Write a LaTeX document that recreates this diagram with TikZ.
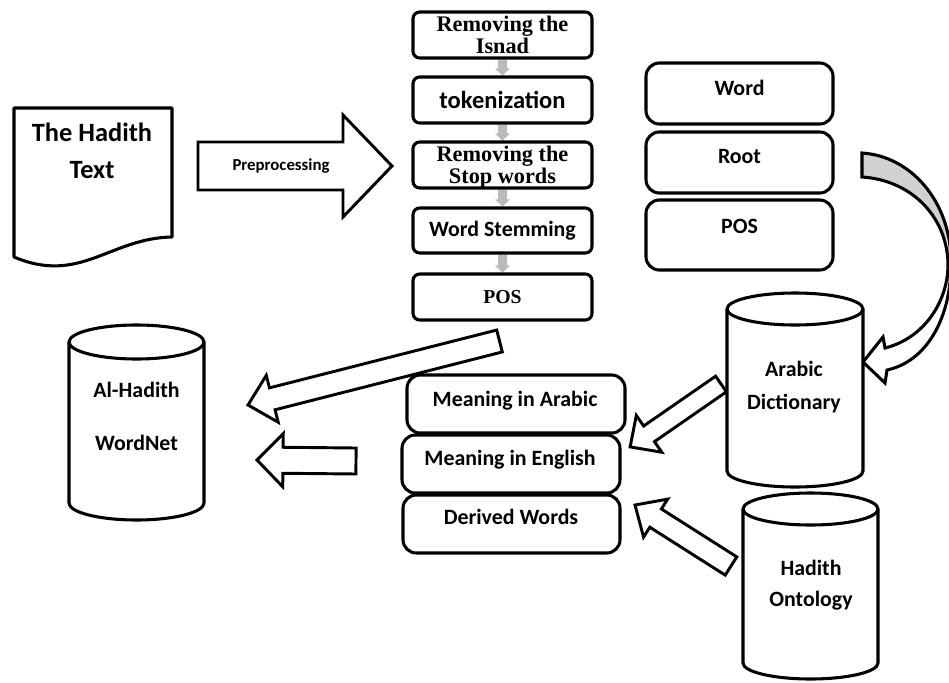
\documentclass[tikz,border=0pt]{standalone}
\usepackage{fontspec}
\setmainfont{Carlito}
\newfontfamily\tmsfont{Liberation Serif}
\pgfdeclarelayer{bg}
\pgfsetlayers{bg,main}
\tikzset{
  ol/.style={draw=black, line width=2.3pt},
  mbox/.style={ol, fill=white, rounded corners=5pt, inner sep=0pt, align=center},
  rbox/.style={ol, fill=white, rounded corners=10pt, inner sep=0pt},
  lbl/.style={font=\bfseries\fontsize{16.4}{18}\selectfont, anchor=base, inner sep=0pt},
  biglbl/.style={font=\bfseries\fontsize{19.8}{22}\selectfont, anchor=base, inner sep=0pt},
  serifbox/.style={font=\tmsfont\bfseries\fontsize{16.7}{14.4}\selectfont, text depth=0pt},
  hollow/.style={draw=black, line width=2.2pt, fill=white, line join=miter, miter limit=4},
  tinyarr/.style={fill=black!27, draw=none},
}
% block arrow: [style]{tail}{tip}{body half width px}{head half width px}{head length px}
\newcommand\blockarrow[6][]{%
  \path (#2); \pgfgetlastxy{\bax}{\bay}%
  \path (#3); \pgfgetlastxy{\bbx}{\bby}%
  \pgfmathsetmacro\bang{atan2(\bby-\bay,\bbx-\bax)}%
  \pgfmathsetmacro\blen{veclen(\bbx-\bax,\bby-\bay)}%
  \pgfmathsetmacro\bbw{0.75*#4}%
  \pgfmathsetmacro\bhw{0.75*#5}%
  \pgfmathsetmacro\bneck{\blen-0.75*#6}%
  \draw[#1,shift={(#2)},rotate=\bang] (0pt,-\bbw pt) -- (\bneck pt,-\bbw pt) -- (\bneck pt,-\bhw pt) -- (\blen pt,0pt) -- (\bneck pt,\bhw pt) -- (\bneck pt,\bbw pt) -- (0pt,\bbw pt) -- cycle;%
}
% cylinder: {x1}{x2}{y top centre}{y bottom centre}{ry} in px
\newcommand\cylshape[5]{%
  \pgfmathsetmacro\crx{0.75*(#2-#1)/2}%
  \pgfmathsetmacro\cry{0.75*#5}%
  \draw[ol,fill=white] (#1,#3) -- (#1,#4) arc[start angle=180,end angle=360,x radius=\crx pt,y radius=\cry pt] -- (#2,#3) arc[start angle=0,end angle=180,x radius=\crx pt,y radius=\cry pt] -- cycle;
  \draw[ol] (#1,#3) arc[start angle=180,end angle=360,x radius=\crx pt,y radius=\cry pt];
}
\begin{document}
\begin{tikzpicture}[x=0.75pt,y=-0.75pt]
\useasboundingbox (0,0) rectangle (949,682);
\begin{pgfonlayer}{bg}
\fill[white] (0,0) rectangle (949,682);
\end{pgfonlayer}

% document shape
\draw[ol, fill=white, line join=round] (14,108) -- (172,108) -- (172,237) .. controls (110,238) and (80,285) .. (14,257) -- cycle;
\node[biglbl] (doc1) at (92,141.5) {The Hadith};
\node[biglbl] (doc2) at (92,178) {Text};

% coordinates for block arrows
\coordinate (pp1) at (198,166); \coordinate (pp2) at (392,166);
\coordinate (la1) at (499.5,341); \coordinate (la2) at (248,405);
\coordinate (ha1) at (356,461); \coordinate (ha2) at (257,460);
\coordinate (ad1) at (721,384); \coordinate (ad2) at (630,447);
\coordinate (ho1) at (731,566); \coordinate (ho2) at (635,505);

% preprocessing arrow
\blockarrow[hollow]{pp1}{pp2}{24}{51}{49}
\node[font=\bfseries\fontsize{12.6}{14}\selectfont, anchor=base, inner sep=0pt] (pptext) at (281,170) {Preprocessing};

% middle column
\node[mbox, serifbox, minimum width=179*0.75pt, minimum height=46*0.75pt] (isnad) at (502.5,35) {Removing the\\Isnad};
\node[mbox, font=\bfseries\fontsize{18.4}{20}\selectfont, minimum width=179*0.75pt, minimum height=46*0.75pt] (tok) at (502.5,100) {tokenization};
\node[mbox, serifbox, minimum width=179*0.75pt, minimum height=46*0.75pt] (stop) at (502.5,165) {Removing the\\Stop words};
\node[mbox, font=\bfseries\fontsize{16.4}{18}\selectfont, minimum width=179*0.75pt, minimum height=45*0.75pt] (stem) at (502.5,230.5) {Word Stemming};
\node[mbox, font=\tmsfont\bfseries\fontsize{14.8}{16}\selectfont, minimum width=179*0.75pt, minimum height=46*0.75pt] (pos) at (502.5,297) {POS};
\begin{pgfonlayer}{bg}
\blockarrow[tinyarr]{isnad.south}{tok.north}{4.5}{7.5}{7}
\blockarrow[tinyarr]{tok.south}{stop.north}{4.5}{7.5}{7}
\blockarrow[tinyarr]{stop.south}{stem.north}{4.5}{7.5}{7}
\blockarrow[tinyarr]{stem.south}{pos.north}{4.5}{7.5}{7}
\end{pgfonlayer}

% right column boxes
\node[rbox, minimum width=187*0.75pt, minimum height=61*0.75pt] (word) at (739.5,93.5) {};
\node[rbox, minimum width=187*0.75pt, minimum height=61*0.75pt] (root) at (739.5,162.5) {};
\node[rbox, minimum width=187*0.75pt, minimum height=70*0.75pt] (rpos) at (739.5,235) {};
\node[lbl] (wordt) at (739.5,95) {Word};
\node[lbl] (roott) at (739.5,163.3) {Root};
\node[lbl] (rpost) at (739.5,233) {POS};

% curved arrow from Root to Arabic Dictionary
\begin{scope}
\clip (850,140) rectangle (960,238);
\fill[black!18] (862,153) .. controls (910,156) and (950,200) .. (951,260) -- (948,262) .. controls (946,215) and (910,180) .. (862,177) -- cycle;
\end{scope}
\draw[ol, line join=miter] (862,153) .. controls (910,156) and (950,200) .. (951,260) .. controls (952,320) and (925,362) .. (887,370) -- (885,383) -- (863,362) -- (883,337) -- (885,348) .. controls (925,338) and (949,300) .. (948,262) .. controls (946,215) and (910,180) .. (862,177) -- cycle;

% block arrows in the lower part
\blockarrow[hollow]{la1}{la2}{11.3}{24.2}{25}
\blockarrow[hollow]{ha1}{ha2}{13}{26.5}{26}
\blockarrow[hollow]{ad1}{ad2}{9.5}{22.4}{23}
\blockarrow[hollow]{ho1}{ho2}{10.8}{22.5}{24.4}

% meaning boxes
\node[rbox, minimum width=218*0.75pt, minimum height=58*0.75pt] (mia) at (516,404) {};
\node[rbox, minimum width=218*0.75pt, minimum height=58*0.75pt] (mie) at (511,464) {};
\node[rbox, minimum width=217*0.75pt, minimum height=58*0.75pt] (dw) at (511.5,524) {};
\node[lbl] (miat) at (515,406.7) {Meaning in Arabic};
\node[lbl] (miet) at (510,465) {Meaning in English};
\node[lbl] (dwt) at (511,524) {Derived Words};

% cylinders
\cylshape{69}{204}{342}{503}{17}
\node[lbl] (wn1) at (136.5,397) {Al-Hadith};
\node[lbl] (wn2) at (136.5,450) {WordNet};

\cylshape{727}{863}{309}{471}{16}
\node[lbl] (ad1t) at (794,376.7) {Arabic};
\node[lbl] (ad2t) at (794,409) {Dictionary};

\cylshape{743}{878}{509}{663}{16}
\node[lbl] (ho1t) at (811,575) {Hadith};
\node[lbl] (ho2t) at (811,606) {Ontology};
\end{tikzpicture}
\end{document}
